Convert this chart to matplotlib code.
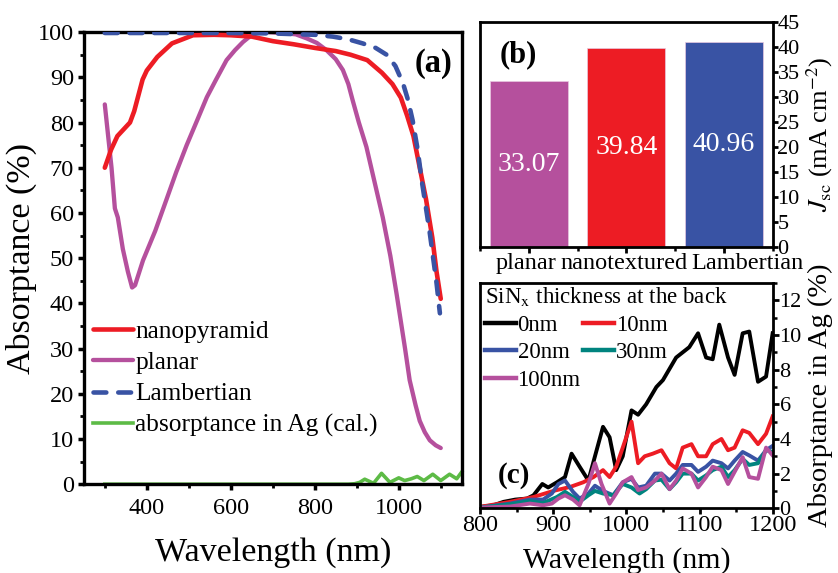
import matplotlib
matplotlib.use("Agg")
import matplotlib.pyplot as plt
from matplotlib.ticker import MultipleLocator

plt.rcParams["font.family"] = ["Liberation Serif", "DejaVu Serif"]
plt.rcParams["mathtext.fontset"] = "stix"

RED = "#ED1C24"
PURPLE = "#B5509D"
BLUE = "#3953A4"
GREEN = "#5DBB46"
TEAL = "#00847F"

# ── (a) absorptance spectra ────────────────────────────────────────────────
nano_wl = [300, 315, 330, 345, 360, 370, 380, 390, 400, 425, 460, 510, 560, 600,
           650, 700, 750, 800, 850, 885, 925, 960, 985, 1005, 1020, 1035, 1050,
           1065, 1080, 1090, 1100]
nano_abs = [70, 74, 77, 78.5, 80, 82.5, 86, 89.5, 91.5, 94.5, 97.5, 99.3, 99.4, 99.3,
            99, 98, 97.3, 96.5, 95.8, 95, 93.8, 91, 88.5, 85.5, 81.5, 77, 70,
            63, 54.5, 47, 41]

planar_wl = [300, 308, 316, 324, 331, 343, 355, 365, 372, 391, 420, 447, 470, 495,
             520, 543, 565, 590, 610, 629, 645, 662, 690, 724, 755, 781, 805, 828,
             850, 867, 880, 890, 905, 923, 942, 962, 980, 995, 1002, 1015, 1026,
             1040, 1050, 1062, 1074, 1088, 1100]
planar_abs = [84, 77, 70, 61, 59, 52, 47, 43.5, 44, 49.5, 56, 63, 69, 75,
              80.5, 85.6, 89.5, 93.8, 96, 97.8, 99, 99.8, 100, 99.8, 99.5, 98.6, 97.6, 96,
              94, 91.6, 88.5, 85, 80, 74.6, 67, 59, 50.5, 42, 37.8, 30, 23,
              17.5, 14, 11.5, 9.7, 8.6, 8]

lamb_wl = [300, 400, 500, 600, 700, 800, 843, 880, 914, 945, 971, 992, 1010, 1022,
           1033, 1045, 1055, 1065, 1074, 1082, 1090, 1098]
lamb_abs = [99.8, 99.8, 99.8, 99.8, 99.7, 99.4, 99, 98.4, 97.5, 96.5, 95, 92.5, 88.7, 85,
            80.5, 74, 67, 61, 55.5, 50, 44.5, 37.8]

ag_wl = [300, 880, 895, 907, 919, 940, 959, 979, 1000, 1014, 1030, 1044, 1060, 1081,
         1100, 1121, 1138, 1150]
ag_abs = [0, 0, 0.1, 0.4, 1.1, 0.2, 2.4, 0.4, 1.4, 0.8, 1.2, 1.7, 0.8, 2.2,
          0.8, 2.2, 1.2, 2.7]

# ── (b) short-circuit current ──────────────────────────────────────────────
jsc_cases = ["planar", "nanotextured", "Lambertian"]
jsc_values = [33.07, 39.84, 40.96]
jsc_colors = [PURPLE, RED, BLUE]

# ── (c) absorptance in Ag vs SiNx thickness ────────────────────────────────
t0_wl = [800, 818, 832, 848, 864, 873, 885, 893, 905, 916, 925, 936, 948, 957, 968,
         977, 986, 995, 1007, 1016, 1027, 1041, 1050, 1068, 1086, 1098, 1109, 1118,
         1127, 1139, 1148, 1159, 1168, 1180, 1191, 1200]
t0_abs = [0.08, 0.17, 0.37, 0.5, 0.56, 0.75, 1.4, 1.2, 1.5, 1.8, 3.15, 2.4, 1.6, 3.0, 4.7,
          4.1, 2.2, 3.0, 5.65, 5.4, 6.0, 7.0, 7.4, 8.7, 9.3, 10.1, 8.7, 8.6,
          10.6, 8.7, 7.7, 10.1, 10.2, 7.3, 7.6, 10.1]

t10_wl = [800, 841, 873, 900, 923, 941, 955, 968, 977, 986, 995, 1007, 1016, 1025,
          1036, 1048, 1059, 1068, 1077, 1089, 1098, 1109, 1118, 1130, 1139, 1148,
          1159, 1168, 1180, 1191, 1200]
t10_abs = [0.08, 0.37, 0.65, 1.0, 1.23, 1.5, 1.8, 2.2, 1.8, 2.4, 3.5, 5.0, 2.6, 3.0,
           3.15, 3.35, 2.6, 2.3, 3.5, 3.7, 3.0, 3.0, 3.7, 4.0, 3.35, 3.5,
           4.5, 4.35, 3.7, 4.3, 5.3]

t20_wl = [800, 841, 868, 886, 898, 907, 916, 927, 936, 948, 957, 968, 982, 995, 1007,
          1016, 1027, 1039, 1048, 1059, 1068, 1077, 1089, 1098, 1109, 1118, 1130,
          1139, 1148, 1159, 1168, 1180, 1191, 1200]
t20_abs = [0.04, 0.27, 0.5, 0.5, 0.85, 1.4, 1.6, 0.95, 0.56, 0.85, 1.3, 1.0, 0.75, 1.5, 1.7,
           1.2, 1.3, 2.0, 2.0, 1.6, 2.0, 2.5, 2.5, 2.1, 2.4, 2.75, 2.6,
           2.3, 2.75, 3.25, 3.05, 2.75, 3.35, 3.6]

t30_wl = [800, 841, 868, 886, 905, 916, 927, 936, 948, 957, 968, 982, 995, 1007, 1018,
          1027, 1039, 1048, 1059, 1068, 1077, 1089, 1098, 1109, 1118, 1130, 1139,
          1148, 1159, 1168, 1180, 1191, 1200]
t30_abs = [0.04, 0.23, 0.42, 0.3, 0.65, 0.95, 0.65, 0.37, 0.75, 1.0, 0.85, 0.75, 1.4, 1.2, 0.85,
           1.1, 1.6, 1.65, 1.1, 1.5, 2.0, 2.0, 1.6, 1.9, 2.2, 2.4, 1.8,
           2.2, 2.85, 2.5, 2.6, 3.35, 3.25]

t100_wl = [800, 841, 868, 886, 898, 907, 916, 927, 936, 948, 957, 966, 977, 986, 995,
           1007, 1016, 1027, 1039, 1048, 1059, 1068, 1077, 1089, 1098, 1109, 1118,
           1130, 1139, 1148, 1159, 1168, 1180, 1191, 1200]
t100_abs = [0.04, 0.1, 0.27, 0.17, 0.27, 0.56, 0.75, 0.5, 0.17, 1.4, 2.6, 1.4, 0.27, 0.85, 1.5,
            1.8, 1.05, 1.2, 1.6, 2.0, 1.1, 1.6, 2.3, 2.0, 1.2, 1.8, 2.4,
            2.2, 1.4, 2.1, 2.95, 1.8, 1.7, 3.5, 3.05]


def _frame(ax, lw):
    for s in ax.spines.values():
        s.set_linewidth(lw)


def main() -> None:
    fig = plt.figure(figsize=(8.38, 5.73), dpi=100)

    # ── panel (a) ─────────────────────────────────────────────────────────
    ax = fig.add_axes([0.100, 0.155, 0.451, 0.789])
    ax.plot(nano_wl, nano_abs, color=RED, lw=3.3, label="nanopyramid",
            solid_capstyle="round", zorder=3)
    ax.plot(planar_wl, planar_abs, color=PURPLE, lw=3.1, label="planar",
            solid_capstyle="round", zorder=2)
    ax.plot(lamb_wl, lamb_abs, color=BLUE, lw=3.3, ls=(0, (2.8, 2.6)),
            dash_capstyle="round", label="Lambertian", zorder=4)
    ax.plot(ag_wl, ag_abs, color=GREEN, lw=2.6, label="absorptance in Ag (cal.)",
            zorder=2, clip_on=False)
    ax.set_xlim(250, 1150)
    ax.set_ylim(0, 100)
    ax.xaxis.set_major_locator(MultipleLocator(200))
    ax.xaxis.set_minor_locator(MultipleLocator(100))
    ax.yaxis.set_major_locator(MultipleLocator(10))
    ax.yaxis.set_minor_locator(MultipleLocator(5))
    ax.tick_params(which="major", direction="out", length=4, width=2.5,
                   labelsize=17.5, pad=3)
    ax.tick_params(axis="x", which="major", pad=6)
    ax.tick_params(which="minor", direction="out", length=3, width=2)
    _frame(ax, 2.4)
    ax.set_xlabel("Wavelength (nm)", fontsize=24.5)
    ax.set_ylabel("Absorptance (%)", fontsize=24.5)
    ax.xaxis.set_label_coords(0.5, -0.117)
    ax.yaxis.set_label_coords(-0.124, 0.5)
    ax.text(0.926, 0.931, "(a)", transform=ax.transAxes, fontsize=23.5,
            fontweight="bold", ha="center", va="center")
    ax.legend(loc="upper left", bbox_to_anchor=(-0.002, 0.385), frameon=False,
              fontsize=18.3, handlelength=1.55, handletextpad=0.1,
              labelspacing=0.33, borderaxespad=0)

    # ── panel (b) ─────────────────────────────────────────────────────────
    bx = fig.add_axes([0.573, 0.569, 0.349, 0.393])
    pos = list(range(1, len(jsc_cases) + 1))
    bars = bx.bar(pos, jsc_values, width=0.8, color=jsc_colors,
                  edgecolor="#e8c8e0", linewidth=0.5)
    for b, v in zip(bars, jsc_values):
        bx.text(b.get_x() + b.get_width() / 2, v / 2, f"{v:.2f}",
                ha="center", va="center", color="white", fontsize=20)
    bx.set_xlim(0.5, 3.5)
    bx.set_ylim(0, 45)
    bx.set_xticks(pos)
    bx.set_xticklabels([])
    # category names are nudged sideways as in the figure so they do not collide
    for p, name, dx in zip(pos, jsc_cases, [-2, -2, 17]):
        bx.annotate(name, xy=(p, 0), xycoords=("data", "axes fraction"),
                    xytext=(dx, -4), textcoords="offset points",
                    ha="center", va="top", fontsize=17.5)
    bx.xaxis.set_minor_locator(MultipleLocator(1, offset=0.5))
    bx.yaxis.set_major_locator(MultipleLocator(5))
    bx.yaxis.tick_right()
    bx.yaxis.set_label_position("right")
    bx.tick_params(axis="y", which="major", direction="out", length=3.5, width=2,
                   labelsize=16, pad=0)
    bx.tick_params(axis="x", which="major", direction="out", length=4, width=2)
    bx.tick_params(axis="x", which="minor", direction="out", length=3, width=1.8)
    _frame(bx, 2.0)
    bx.set_ylabel(r"$J_{\mathrm{sc}}$ (mA cm$^{-2}$)", fontsize=19)
    bx.yaxis.set_label_coords(1.11, 0.5)
    bx.text(0.13, 0.853, "(b)", transform=bx.transAxes, fontsize=22,
            fontweight="bold", ha="center", va="center")

    # ── panel (c) ─────────────────────────────────────────────────────────
    cx = fig.add_axes([0.573, 0.113, 0.349, 0.393])
    h0, = cx.plot(t0_wl, t0_abs, color="black", lw=2.8, label="0nm")
    h10, = cx.plot(t10_wl, t10_abs, color=RED, lw=2.8, label="10nm")
    h20, = cx.plot(t20_wl, t20_abs, color=BLUE, lw=2.8, label="20nm")
    h30, = cx.plot(t30_wl, t30_abs, color=TEAL, lw=2.8, label="30nm")
    h100, = cx.plot(t100_wl, t100_abs, color=PURPLE, lw=2.8, label="100nm")
    cx.set_xlim(800, 1200)
    cx.set_ylim(0, 13)
    cx.xaxis.set_major_locator(MultipleLocator(100))
    cx.xaxis.set_minor_locator(MultipleLocator(50))
    cx.yaxis.set_major_locator(MultipleLocator(2))
    cx.yaxis.set_minor_locator(MultipleLocator(1))
    cx.yaxis.tick_right()
    cx.yaxis.set_label_position("right")
    cx.tick_params(axis="x", which="major", direction="out", length=4, width=2,
                   labelsize=17.5, pad=1)
    cx.tick_params(axis="y", which="major", direction="out", length=4, width=2,
                   labelsize=16, pad=1)
    cx.tick_params(which="minor", direction="out", length=3, width=1.8)
    _frame(cx, 2.0)
    cx.set_xlabel("Wavelength (nm)", fontsize=21.5)
    cx.set_ylabel("Absorptance in Ag (%)", fontsize=20.5)
    cx.xaxis.set_label_coords(0.5, -0.173)
    cx.yaxis.set_label_coords(1.119, 0.5)
    cx.text(0.116, 0.147, "(c)", transform=cx.transAxes, fontsize=21,
            fontweight="bold", ha="center", va="center")
    leg = cx.legend(handles=[h0, h20, h100, h10, h30], ncol=2, loc="upper left",
                    bbox_to_anchor=(0.0, 1.01), frameon=False, fontsize=16.5,
                    title=r"SiN$_{\mathrm{x}}$ thickness at the back",
                    title_fontsize=16.5, alignment="left", handlelength=1.35,
                    handletextpad=0.08, columnspacing=0.1, labelspacing=0.28,
                    borderaxespad=0.1, borderpad=0.1)
    for line in leg.get_lines():
        line.set_linewidth(3.2)

    fig.savefig("out.png", dpi=100)
    plt.close(fig)


if __name__ == "__main__":
    main()
